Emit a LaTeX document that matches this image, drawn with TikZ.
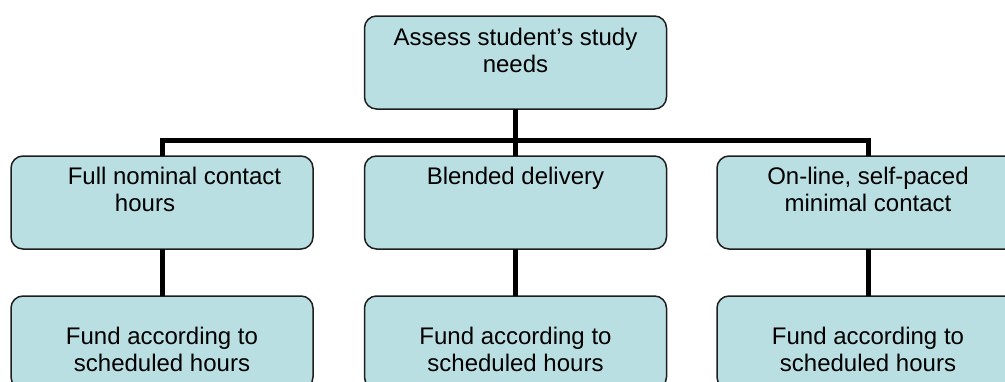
\documentclass[tikz,border=0pt]{standalone}
\usepackage{fontspec}
\setmainfont{Liberation Sans}
\definecolor{boxfill}{RGB}{185,223,227}
\definecolor{boxline}{RGB}{30,30,30}
\tikzset{
  card/.style={draw=boxline, fill=boxfill, line width=1.5pt, rounded corners=12pt,
    minimum width=302pt, minimum height=93pt, inner sep=0pt, outer sep=0pt},
  txt/.style={anchor=base, inner sep=0pt, font=\fontsize{24}{27}\selectfont},
  link/.style={line width=5pt, draw=black, line join=miter}
}
\begin{document}
\begin{tikzpicture}[x=1pt, y=-1pt]
\clip (0,0) rectangle (1005,381);
\fill[white] (0,0) rectangle (1005,381);
% connectors first (behind boxes)
\coordinate (bus) at (515.5,140);
% boxes
\node[card] (top) at (515.5,62.5) {};
\node[card] (left) at (162,202.5) {};
\node[card] (mid) at (515.5,202.5) {};
\node[card] (right) at (868,202.5) {};
\node[card] (leftb) at (162,342.5) {};
\node[card] (midb) at (515.5,342.5) {};
\node[card] (rightb) at (868,342.5) {};
% connectors
\draw[link] (top.south) -- (mid.north);
\draw[link] (left.north) -- (left.north |- bus) -- (right.north |- bus) -- (right.north);
\draw[link] (left.south) -- (leftb.north);
\draw[link] (mid.south) -- (midb.north);
\draw[link] (right.south) -- (rightb.north);
% texts
\node[txt] (t1) at (515.5,45) {Assess student’s study};
\node[txt] (t2) at (515.5,72) {needs};
\node[txt] (l1) at (174.5,184) {Full nominal contact};
\node[txt] (l2) at (145,211) {hours};
\node[txt] (m1) at (515.5,184) {Blended delivery};
\node[txt] (r1) at (868,184) {On-line, self-paced};
\node[txt] (r2) at (868,211) {minimal contact};
\foreach \n/\x in {a/162, b/515.5, c/868}{
  \node[txt] (f\n1) at (\x,344) {Fund according to};
  \node[txt] (f\n2) at (\x,371) {scheduled hours};
}
\end{tikzpicture}
\end{document}
